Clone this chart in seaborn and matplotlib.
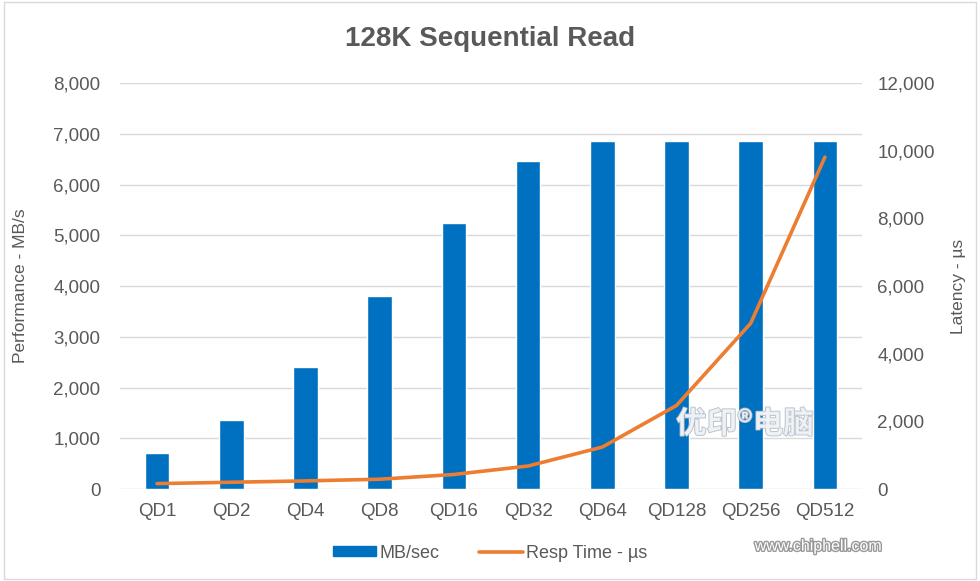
import numpy as np
import pandas as pd
import matplotlib.pyplot as plt
import matplotlib.patheffects as pe
import seaborn as sns
from matplotlib.patches import Rectangle, Patch
from matplotlib.lines import Line2D
from matplotlib.ticker import FuncFormatter

# 128K sequential read results
queue_depth = ['QD1', 'QD2', 'QD4', 'QD8', 'QD16', 'QD32', 'QD64', 'QD128', 'QD256', 'QD512']
mb_per_sec = [715, 1360, 2410, 3800, 5235, 6460, 6865, 6850, 6850, 6865]
resp_time_us = [160, 200, 240, 290, 430, 680, 1240, 2470, 4900, 9810]

sns.set_theme(style="white")
plt.rcParams['font.family'] = ['Liberation Sans', 'DejaVu Sans']

blue = '#0070C0'
orange = '#ED7D31'
grey = '#595959'

df = pd.DataFrame({'QD': queue_depth, 'MBps': mb_per_sec, 'Resp': resp_time_us})

fig = plt.figure(figsize=(9.8, 5.81), dpi=100)
ax = fig.add_axes([0.1224, 0.1583, 0.7572, 0.6987])

sns.barplot(data=df, x='QD', y='MBps', ax=ax, color=blue, saturation=1, width=0.33)
ax.set_ylim(0, 8000)
ax.set_xlim(-0.5, len(queue_depth) - 0.5)
ax.set_yticks(np.arange(0, 8001, 1000))
ax.yaxis.set_major_formatter(FuncFormatter(lambda v, p: f'{v:,.0f}'))
ax.grid(axis='y', color='#D9D9D9', lw=1)
ax.set_axisbelow(True)
for s in ax.spines.values():
    s.set_visible(False)
ax.tick_params(axis='both', length=0, labelsize=13.5, labelcolor=grey)
ax.tick_params(axis='x', pad=10)
ax.tick_params(axis='y', pad=14)
ax.set_xlabel('')
ax.set_ylabel('Performance - MB/s', fontsize=12.5, color=grey, labelpad=18)

ax2 = ax.twinx()
sns.lineplot(x=np.arange(len(queue_depth)), y=resp_time_us, ax=ax2, color=orange, lw=2.6)
ax2.set_ylim(0, 12000)
ax2.set_yticks(np.arange(0, 12001, 2000))
ax2.yaxis.set_major_formatter(FuncFormatter(lambda v, p: f'{v:,.0f}'))
for s in ax2.spines.values():
    s.set_visible(False)
ax2.tick_params(axis='y', length=0, labelsize=13.5, labelcolor=grey, pad=11)
ax2.set_ylabel('Latency - µs', fontsize=12.5, color=grey, labelpad=12)
ax2.grid(False)

fig.suptitle('128K Sequential Read', x=0.5, y=0.955, fontsize=20, fontweight='bold', color=grey)

handles = [Patch(color=blue, label='MB/sec'), Line2D([], [], color=orange, lw=2.6, label='Resp Time - µs')]
fig.legend(handles=handles, loc='center', bbox_to_anchor=(0.5, 0.048), ncol=2, frameon=False,
           fontsize=13, labelcolor=grey, handlelength=2.4, handleheight=0.5, handletextpad=0.2,
           columnspacing=2.2)

# forum watermarks
fig.text(0.76, 0.27, '优印®电脑', fontsize=22, fontweight='bold', color='#EEF3F8', alpha=0.9,
         ha='center', va='center', family=['Noto Sans CJK SC', 'DejaVu Sans'],
         path_effects=[pe.withStroke(linewidth=1.2, foreground='#B0B8C0')])
fig.text(0.835, 0.06, 'www.chiphell.com', fontsize=11.5, color='#FFFFFF', ha='center', va='center',
         path_effects=[pe.withStroke(linewidth=2, foreground='#999999')])

fig.patches.append(Rectangle((0.004, 0.004), 0.992, 0.992, transform=fig.transFigure,
                             fill=False, edgecolor='#D9D9D9', lw=1))

fig.savefig('out.png', dpi=100)
